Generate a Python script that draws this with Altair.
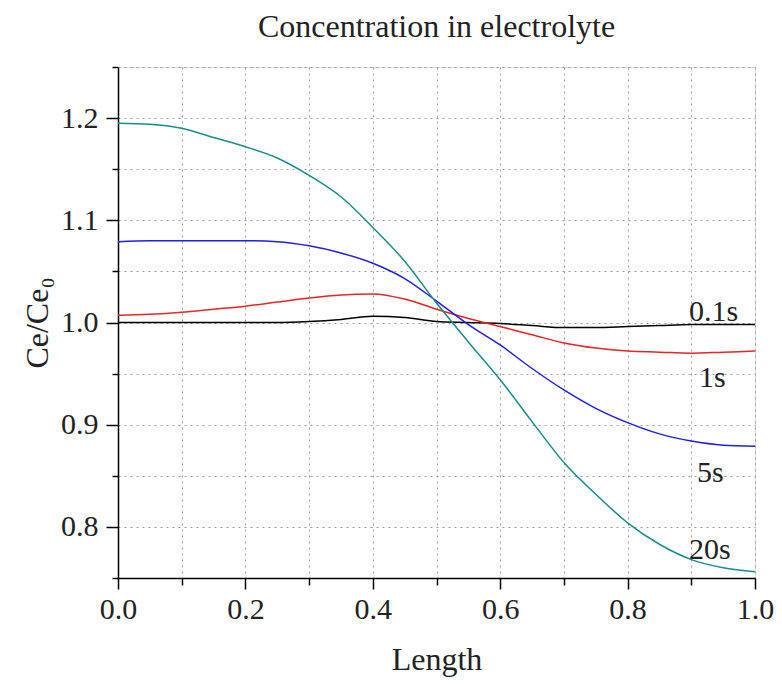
import altair as alt
import pandas as pd

# ---- data ----
x_vals = [0.00, 0.05, 0.10, 0.15, 0.20, 0.25, 0.30, 0.35, 0.40, 0.45, 0.50,
          0.55, 0.60, 0.65, 0.70, 0.75, 0.80, 0.85, 0.90, 0.95, 1.00]

c_01s = [1.000, 1.000, 1.000, 1.000, 1.000, 1.000, 1.001, 1.003, 1.006, 1.005, 1.001,
         1.000, 0.999, 0.997, 0.995, 0.995, 0.996, 0.997, 0.998, 0.998, 0.998]
c_1s = [1.007, 1.008, 1.010, 1.013, 1.016, 1.020, 1.024, 1.027, 1.028, 1.023, 1.013,
        1.004, 0.996, 0.988, 0.980, 0.975, 0.972, 0.971, 0.970, 0.971, 0.972]
c_5s = [1.079, 1.080, 1.080, 1.080, 1.080, 1.079, 1.075, 1.068, 1.058, 1.043, 1.021,
        0.998, 0.978, 0.955, 0.934, 0.916, 0.902, 0.891, 0.884, 0.880, 0.879]
c_20s = [1.195, 1.194, 1.190, 1.181, 1.172, 1.161, 1.144, 1.123, 1.093, 1.060, 1.019,
         0.981, 0.944, 0.903, 0.863, 0.832, 0.804, 0.783, 0.768, 0.760, 0.756]

series_names = ["0.1s", "1s", "5s", "20s"]
series_colors = ["#000000", "#e32626", "#1f1fe6", "#1a8c8a"]

label_text = ["0.1s", "1s", "5s", "20s"]
label_x = [0.935, 0.933, 0.930, 0.929]
label_y = [1.010, 0.946, 0.853, 0.777]

x_ticks = [0.0, 0.1, 0.2, 0.3, 0.4, 0.5, 0.6, 0.7, 0.8, 0.9, 1.0]
y_ticks = [0.75, 0.8, 0.85, 0.9, 0.95, 1.0, 1.05, 1.1, 1.15, 1.2, 1.25]

# ---- build tables ----
rows = []
for name, vals in zip(series_names, [c_01s, c_1s, c_5s, c_20s]):
    for xv, yv in zip(x_vals, vals):
        rows.append({"series": name, "x": xv, "y": yv})
df = pd.DataFrame(rows)
lab_df = pd.DataFrame({"label": label_text, "x": label_x, "y": label_y})

FONT = "Liberation Serif"
TXT = "#222222"

x_axis = alt.Axis(
    values=x_ticks,
    title="Length",
    labelExpr="round(datum.value*10) % 2 === 0 ? format(datum.value, '.1f') : ''",
    tickSize={"condition": {"test": "round(datum.value*10) % 2 === 0", "value": 11}, "value": 7},
    tickColor="black", tickWidth=1.5,
    domainColor="black", domainWidth=1.5,
    grid=True, gridColor="#9a9a9a", gridDash=[2, 4], gridWidth=1,
    labelFont=FONT, labelFontSize=30, labelColor=TXT, labelPadding=5,
    labelFlush=False, labelOverlap=False,
    titleFont=FONT, titleFontSize=32, titleFontWeight="normal", titleColor=TXT,
    titlePadding=20,
)
y_axis = alt.Axis(
    values=y_ticks,
    title="Ce/Ce₀",
    labelExpr="round(datum.value*20) % 2 === 0 ? format(datum.value, '.1f') : ''",
    tickSize={"condition": {"test": "round(datum.value*20) % 2 === 0", "value": 12}, "value": 6},
    tickColor="black", tickWidth=1.5,
    domainColor="black", domainWidth=1.5,
    grid=True, gridColor="#9a9a9a", gridDash=[2, 4], gridWidth=1,
    labelFont=FONT, labelFontSize=30, labelColor=TXT, labelPadding=8,
    labelFlush=False, labelOverlap=False,
    titleFont=FONT, titleFontSize=32, titleFontWeight="normal", titleColor=TXT,
    titlePadding=6,
)

lines = alt.Chart(df).mark_line(strokeWidth=1.5, interpolate="monotone").encode(
    x=alt.X("x:Q", scale=alt.Scale(domain=[0, 1], nice=False, zero=False), axis=x_axis),
    y=alt.Y("y:Q", scale=alt.Scale(domain=[0.75, 1.25], nice=False, zero=False), axis=y_axis),
    color=alt.Color("series:N", scale=alt.Scale(domain=series_names, range=series_colors), legend=None),
    detail="series:N",
)

labels = alt.Chart(lab_df).mark_text(
    font=FONT, fontSize=30, align="center", baseline="middle", color=TXT
).encode(
    x=alt.X("x:Q"),
    y=alt.Y("y:Q"),
    text="label:N",
)

chart = alt.layer(lines, labels).properties(
    width=637,
    height=511,
    title=alt.TitleParams("Concentration in electrolyte", font=FONT, fontSize=32,
                          fontWeight="normal", color=TXT, offset=8, anchor="middle"),
    autosize=alt.AutoSizeParams(type="none"),
    padding={"left": 110, "top": 59, "right": 19, "bottom": 100},
).configure_view(stroke="black", strokeWidth=1.5).configure(background="white")

chart.save("out.html", embed_options={"renderer": "svg", "actions": False})
